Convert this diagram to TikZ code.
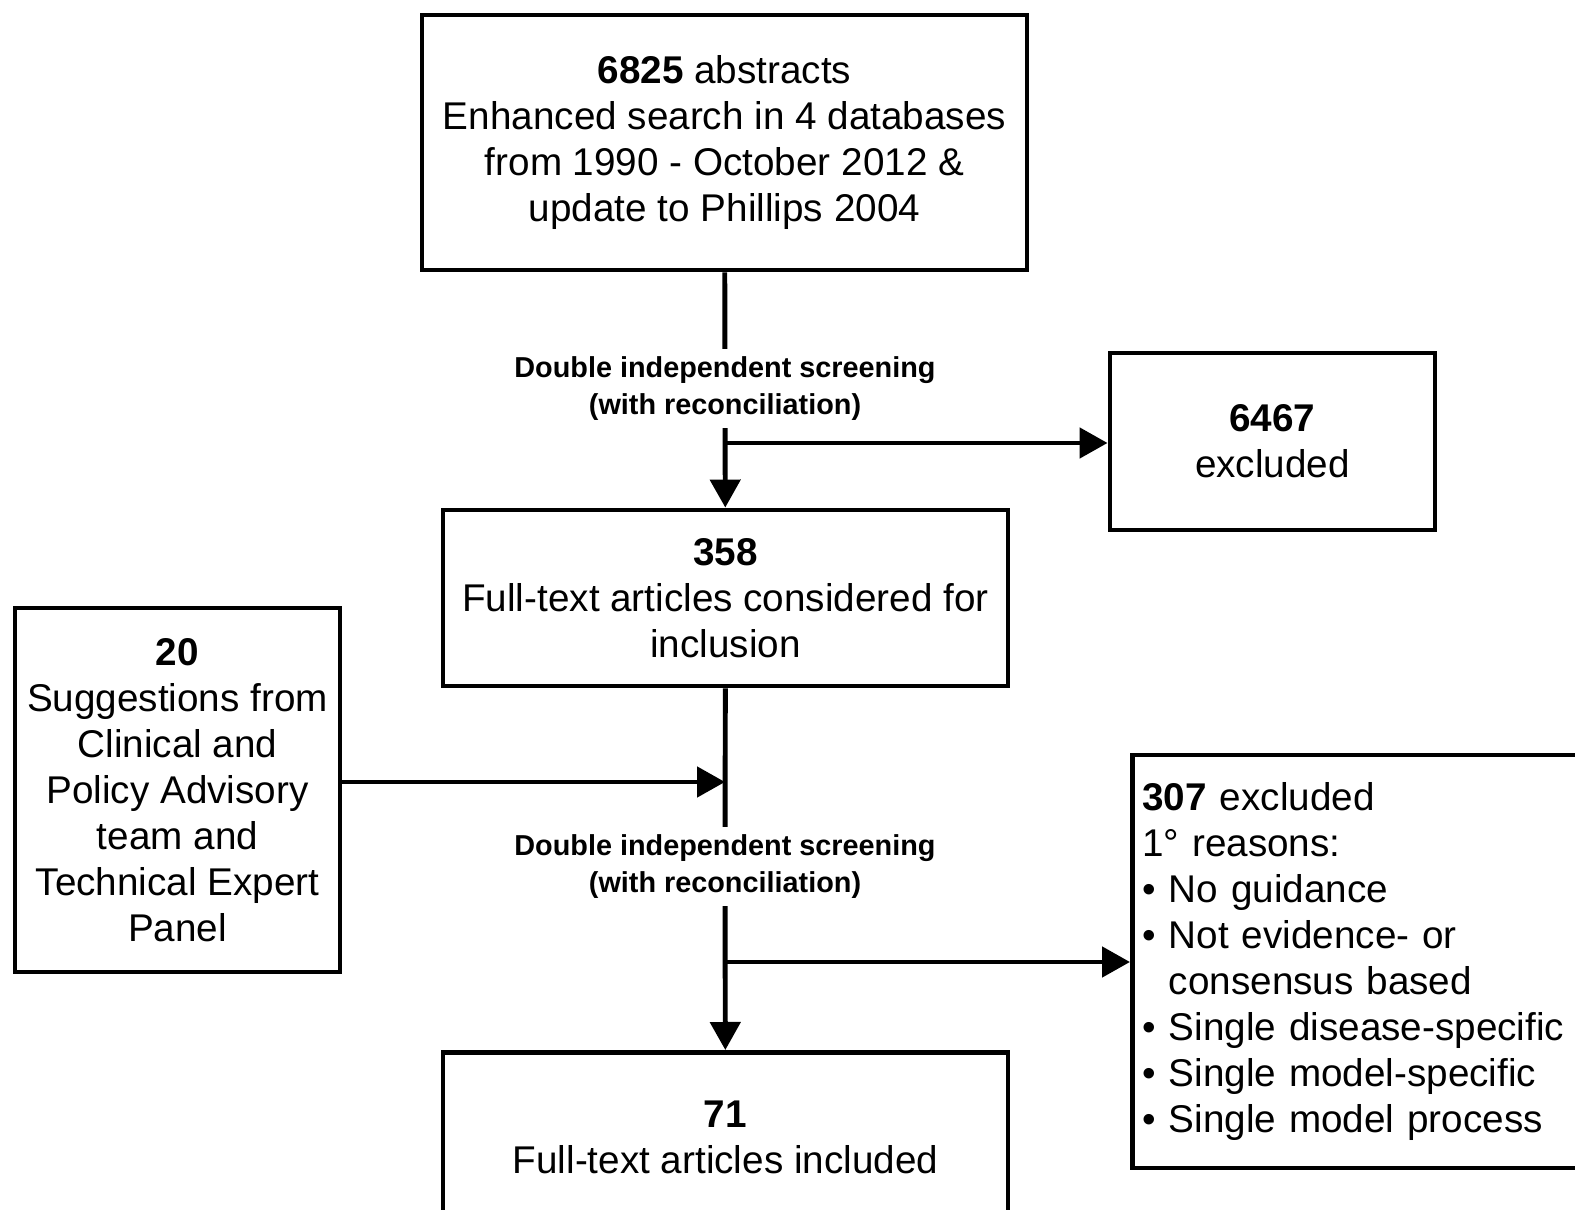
\documentclass[tikz,border=0pt]{standalone}
\usepackage{fontspec}
\setmainfont{Liberation Sans}
\usetikzlibrary{arrows.meta}

\begin{document}
\begin{tikzpicture}[
  box/.style={draw=black,line width=1.4pt,align=center,inner sep=0pt,
    font=\fontsize{11}{13.1}\selectfont},
  screen/.style={fill=white,align=center,inner sep=2pt,
    font=\fontsize{8.2}{10.5}\selectfont\bfseries},
  link/.style={line width=1.4pt},
  arr/.style={line width=1.4pt,-{Triangle[length=0.28cm,width=0.30cm]}}
]
  \useasboundingbox (0,0) rectangle (15.75,-12.10);
  \clip (0,0) rectangle (15.75,-12.10);
  % boxes
  \node[box,minimum width=6.05cm,minimum height=2.55cm] (abstracts) at (7.245,-1.425)
    {\textbf{6825} abstracts\\Enhanced search in 4 databases\\from 1990 - October 2012 \&\\update to Phillips 2004};
  \node[box,minimum width=3.25cm,minimum height=1.77cm] (excl1) at (12.725,-4.415)
    {\textbf{6467}\\excluded};
  \node[box,minimum width=5.65cm,minimum height=1.76cm] (fulltext) at (7.255,-5.98)
    {\textbf{358}\\Full-text articles considered for\\inclusion};
  \node[box,minimum width=3.25cm,minimum height=3.64cm] (sugg) at (1.775,-7.90)
    {\textbf{20}\\Suggestions from\\Clinical and\\Policy Advisory\\team and\\Technical Expert\\Panel};
  \node[box,align=left,text width=4.6cm,inner xsep=0.1cm,minimum height=4.13cm,anchor=west] (excl2) at (11.30,-9.615)
    {\textbf{307} excluded\\1° reasons:\\\textbullet\ No guidance\\\textbullet\ Not evidence- or\\\hphantom{\textbullet\ }consensus based\\\textbullet\ Single disease-specific\\\textbullet\ Single model-specific\\\textbullet\ Single model process};
  \node[box,minimum width=5.65cm,minimum height=1.7cm,anchor=north] (incl) at (7.255,-10.50)
    {\textbf{71}\\Full-text articles included};
  % screening labels
  \node[screen] (screen1) at (7.25,-3.885) {Double independent screening\\(with reconciliation)};
  \node[screen] (screen2) at (7.25,-8.665) {Double independent screening\\(with reconciliation)};
  \coordinate (br1) at (7.25,-4.43);
  \coordinate (join) at (7.25,-7.82);
  \coordinate (br2) at (7.25,-9.62);
  % connectors
  \draw[link] (abstracts) -- (screen1);
  \draw[arr] (screen1) -- (fulltext);
  \draw[arr] (br1) -- (br1 -| excl1.west);
  \draw[link] (fulltext) -- (screen2);
  \draw[arr] (screen2) -- (incl);
  \draw[arr] (sugg.east |- join) -- (join);
  \draw[arr] (br2) -- (br2 -| excl2.west);
\end{tikzpicture}
\end{document}
